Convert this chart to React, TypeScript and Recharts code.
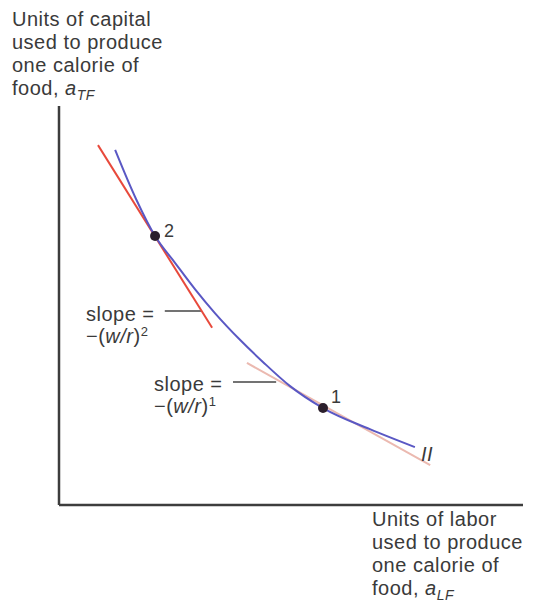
import React from "react";
import { ComposedChart, Line, XAxis, YAxis, ReferenceLine, ReferenceDot } from "recharts";

// isoquant II (units of labor, units of capital)
const curveX = [1.21, 1.66, 2.07, 2.5, 2.93, 3.36, 3.9, 4.4, 4.98, 5.69, 6.7, 7.67];
const curveY = [8.9, 7.67, 6.74, 6.07, 5.41, 4.81, 4.14, 3.58, 2.98, 2.43, 1.9, 1.45];

// tangent at point 2 (steep) and at point 1 (flat)
const tangent2X = [0.84, 3.3];
const tangent2Y = [9.02, 4.44];
const tangent1X = [4.05, 8.0];
const tangent1Y = [3.56, 1.0];

// the two tangency points
const pointNames = ["1", "2"];
const pointX = [5.69, 2.07];
const pointY = [2.43, 6.74];

// short pointer lines from the slope labels
const leader2 = [[2.28, 4.86], [3.06, 4.86]];
const leader1 = [[3.75, 3.08], [4.68, 3.08]];

const yTitle = ["Units of capital", "used to produce", "one calorie of", "food, "];
const xTitle = ["Units of labor", "used to produce", "one calorie of", "food, "];

const curveData = curveX.map((x, i) => ({ x, y: curveY[i] }));
const t2Data = tangent2X.map((x, i) => ({ x, y: tangent2Y[i] }));
const t1Data = tangent1X.map((x, i) => ({ x, y: tangent1Y[i] }));

const FONT = "'Liberation Sans', Arial, Helvetica, sans-serif";
const TEXT = "#3a3a3a";

const Block = ({ left, top, size = 20, lh = 23, children }: any) => (
  <div
    style={{
      position: "absolute",
      left,
      top,
      fontSize: size,
      lineHeight: lh + "px",
      fontFamily: FONT,
      color: TEXT,
      letterSpacing: 0.5,
      whiteSpace: "nowrap",
    }}
  >
    {children}
  </div>
);

const Sub = ({ children }: any) => (
  <span style={{ fontSize: "0.7em", fontStyle: "italic", position: "relative", top: 5, lineHeight: 1 }}>
    {children}
  </span>
);
const Sup = ({ children }: any) => (
  <span style={{ fontSize: "0.65em", position: "relative", top: -7, lineHeight: 1 }}>{children}</span>
);

const Title = ({ lines, sub, left, top }: any) => (
  <Block left={left} top={top}>
    {lines.map((l: string, i: number) => (
      <div key={i}>
        {l}
        {i === lines.length - 1 && (
          <>
            <i>a</i>
            <Sub>{sub}</Sub>
          </>
        )}
      </div>
    ))}
  </Block>
);

const SlopeLabel = ({ left, top, power }: any) => (
  <Block left={left} top={top} lh={22}>
    <div>slope =</div>
    <div>
      −(<i>w/r</i>)<Sup>{power}</Sup>
    </div>
  </Block>
);

export default function App() {
  return (
    <div style={{ position: "absolute", left: 0, top: 0, width: 534, height: 615, background: "#fff" }}>
      <ComposedChart
        width={534}
        height={615}
        margin={{ top: 106, right: 11, bottom: 110, left: 59 }}
      >
        <XAxis type="number" dataKey="x" domain={[0, 10]} hide allowDataOverflow />
        <YAxis type="number" dataKey="y" domain={[0, 10]} hide allowDataOverflow />
        <ReferenceLine segment={[{ x: 0, y: 0 }, { x: 10, y: 0 }]} stroke="#3d3d3d" strokeWidth={2.5} ifOverflow="visible" />
        <ReferenceLine segment={[{ x: 0, y: 0 }, { x: 0, y: 10 }]} stroke="#3d3d3d" strokeWidth={2.5} ifOverflow="visible" />
        <ReferenceLine segment={leader2.map(([x, y]) => ({ x, y }))} stroke="#444" strokeWidth={1.5} />
        <ReferenceLine segment={leader1.map(([x, y]) => ({ x, y }))} stroke="#444" strokeWidth={1.5} />
        <Line data={t1Data} dataKey="y" type="linear" stroke="#ebb9b0" strokeWidth={2} dot={false} isAnimationActive={false} />
        <Line data={t2Data} dataKey="y" type="linear" stroke="#e8493b" strokeWidth={2} dot={false} isAnimationActive={false} />
        <Line data={curveData} dataKey="y" type="monotone" stroke="#5a58c4" strokeWidth={2} dot={false} isAnimationActive={false} />
        {pointNames.map((n, i) => (
          <ReferenceDot key={n} x={pointX[i]} y={pointY[i]} r={5} fill="#2b1f2c" stroke="none" />
        ))}
      </ComposedChart>

      <Title lines={yTitle} sub="TF" left={12} top={8} />
      <Title lines={xTitle} sub="LF" left={372} top={508} />

      <Block left={164} top={220} size={18}>2</Block>
      <Block left={331} top={386} size={18}>1</Block>
      <SlopeLabel left={86} top={303} power={2} />
      <SlopeLabel left={154} top={373} power={1} />
      <Block left={421} top={443} size={20}>
        <i>II</i>
      </Block>
    </div>
  );
}
